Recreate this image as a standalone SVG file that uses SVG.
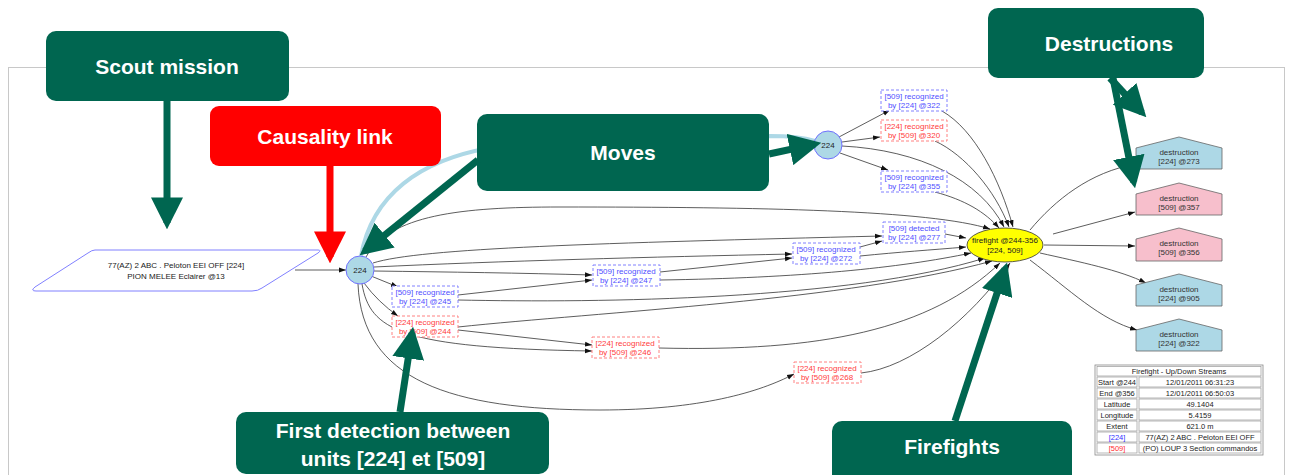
<svg xmlns="http://www.w3.org/2000/svg" width="1290" height="475" viewBox="0 0 1290 475">
<style>
.e{fill:none;stroke:#333;stroke-width:0.8;marker-end:url(#ah)}
.n{font-family:"Liberation Sans",Arial,sans-serif;font-size:8px;text-anchor:middle}
.bb{fill:#fff;stroke:#8080ff;stroke-width:1;stroke-dasharray:3,2}
.rb{fill:#fff;stroke:#ff8080;stroke-width:1;stroke-dasharray:3,2}
.bt{fill:#5050ff}
.rt{fill:#ff4040}
.circ{fill:#add8e6;stroke:#7070ff;stroke-width:1}
.dest{stroke:#666;stroke-width:0.8}
.cell{fill:#fff;stroke:#999;stroke-width:0.7}
.tt{font-family:"Liberation Sans",Arial,sans-serif;font-size:7.5px;text-anchor:middle;fill:#222}
.cb{fill:#006650}
.ct{font-family:"Liberation Sans",Arial,sans-serif;font-weight:bold;font-size:21px;fill:#fff;text-anchor:middle}
.ga{fill:none;stroke:#006650;stroke-width:7;marker-end:url(#gh)}
</style>
<defs>
<marker id="ah" viewBox="0 0 10 10" refX="10" refY="5" markerWidth="7" markerHeight="7" markerUnits="userSpaceOnUse" orient="auto"><path d="M0,1.5 L10,5 L0,8.5 z" fill="#111"/></marker>
<marker id="gh" viewBox="0 0 10 10" refX="8" refY="5" markerWidth="32" markerHeight="32" markerUnits="userSpaceOnUse" orient="auto"><path d="M0,0 L10,5 L0,10 z" fill="#006650"/></marker>
<marker id="rh" viewBox="0 0 10 10" refX="8" refY="5" markerWidth="32" markerHeight="32" markerUnits="userSpaceOnUse" orient="auto"><path d="M0,0 L10,5 L0,10 z" fill="#ff0000"/></marker>
</defs>
<rect x="0" y="0" width="1290" height="475" fill="#fff"/>
<rect x="8.5" y="67.5" width="1276" height="420" fill="none" stroke="#c8c8c8" stroke-width="1"/>

<g id="move-arc">
<path d="M361,256 C372,195 420,160 490,148 L770,136 C790,136 805,138 815,141" fill="none" stroke="#add8e6" stroke-width="4"/>
</g>

<g id="connectors">
<path class="e" d="M371,276 L398,287"/>
<path class="e" d="M364,283 Q378,302 398,316"/>
<path class="e" d="M374,271 C450,272 520,273 592,275"/>
<path class="e" d="M458,295 L592,280"/>
<path class="e" d="M374,267 C500,261 650,257 792,254"/>
<path class="e" d="M660,272 L792,258"/>
<path class="e" d="M373,263 C420,248 600,243 882,236"/>
<path class="e" d="M860,247 L882,241"/>
<path class="e" d="M366,257 C390,215 460,207 560,207 C760,207 930,210 990,229"/>
<path class="e" d="M945,234 L966,238"/>
<path class="e" d="M860,256 C900,252 930,250 966,247"/>
<path class="e" d="M660,280 C800,278 900,268 971,253"/>
<path class="e" d="M458,300 C600,303 850,300 985,258"/>
<path class="e" d="M458,327 C600,312 850,300 992,261"/>
<path class="e" d="M458,330 L592,345"/>
<path class="e" d="M362,284 C370,330 400,348 592,351"/>
<path class="e" d="M358,284 C362,380 450,410 600,410 C700,410 760,392 794,374"/>
<path class="e" d="M659,348 C820,352 930,330 1000,263"/>
<path class="e" d="M861,373 C910,368 970,320 1010,263"/>
<path class="e" d="M839,137 L890,110"/>
<path class="e" d="M842,142 L880,137"/>
<path class="e" d="M840,153 L888,170"/>
<path class="e" d="M842,146 C920,150 980,180 1004,227"/>
<path class="e" d="M942,111 C975,130 1000,180 1013,227"/>
<path class="e" d="M935,141 C965,155 995,190 1009,227"/>
<path class="e" d="M935,192 C965,200 985,212 999,228"/>
<path class="e" d="M295,270 L346,270"/>
<path class="e" d="M1030,230 C1055,200 1090,172 1136,164"/>
<path class="e" d="M1053,234 L1135,212"/>
<path class="e" d="M1044,245 L1135,246"/>
<path class="e" d="M1040,253 C1080,262 1120,270 1146,283"/>
<path class="e" d="M1030,260 C1070,290 1100,320 1137,330"/>
</g>

<g id="scout">
<path d="M95,250 L318,250 Q322,250 318,253 L262,288 Q258,291 252,291 L36,291 Q30,291 35,287 L88,253 Q92,250 95,250 z" fill="#fff" stroke="#8080ff" stroke-width="1"/>
<text class="n" x="176" y="268" fill="#222">77(AZ) 2 ABC . Peloton EEI OFF [224]</text>
<text class="n" x="176" y="279" fill="#222">PION MELEE Eclairer @13</text>
</g>

<g id="n224a"><circle class="circ" cx="360" cy="270" r="14"/><text class="n" x="360" y="273" fill="#222">224</text></g>
<g id="n224b"><circle class="circ" cx="828" cy="145" r="14"/><text class="n" x="828" y="148" fill="#222">224</text></g>

<g id="r322"><rect class="bb" x="881" y="90" width="66" height="21"/><text class="n bt" x="914" y="99">[509] recognized</text><text class="n bt" x="914" y="108">by [224] @322</text></g>
<g id="r320"><rect class="rb" x="881" y="120" width="66" height="21"/><text class="n rt" x="914" y="129">[224] recognized</text><text class="n rt" x="914" y="138">by [509] @320</text></g>
<g id="r355"><rect class="bb" x="881" y="171" width="66" height="21"/><text class="n bt" x="914" y="180">[509] recognized</text><text class="n bt" x="914" y="189">by [224] @355</text></g>
<g id="d277"><rect class="bb" x="883" y="222" width="62" height="21"/><text class="n bt" x="914" y="231">[509] detected</text><text class="n bt" x="914" y="240">by [224] @277</text></g>
<g id="r272"><rect class="bb" x="793" y="243" width="67" height="21"/><text class="n bt" x="826" y="252">[509] recognized</text><text class="n bt" x="826" y="261">by [224] @272</text></g>
<g id="r247"><rect class="bb" x="593" y="265" width="67" height="21"/><text class="n bt" x="626" y="274">[509] recognized</text><text class="n bt" x="626" y="283">by [224] @247</text></g>
<g id="r245"><rect class="bb" x="392" y="286" width="66" height="21"/><text class="n bt" x="425" y="295">[509] recognized</text><text class="n bt" x="425" y="304">by [224] @245</text></g>
<g id="r244"><rect class="rb" x="392" y="316" width="66" height="21"/><text class="n rt" x="425" y="325">[224] recognized</text><text class="n rt" x="425" y="334">by [509] @244</text></g>
<g id="r246"><rect class="rb" x="592" y="337" width="67" height="21"/><text class="n rt" x="625" y="346">[224] recognized</text><text class="n rt" x="625" y="355">by [509] @246</text></g>
<g id="r268"><rect class="rb" x="794" y="362" width="67" height="21"/><text class="n rt" x="827" y="371">[224] recognized</text><text class="n rt" x="827" y="380">by [509] @268</text></g>

<g id="firefight"><ellipse cx="1005" cy="245" rx="38" ry="17" fill="#ffff00" stroke="#333" stroke-width="0.8"/><text class="n" x="1005" y="243" fill="#222">firefight @244-356</text><text class="n" x="1005" y="253" fill="#222">[224, 509]</text></g>

<g id="dest273"><path class="dest" d="M1136,148 L1179,137 L1222,148 L1222,169 L1136,169 z" fill="#add8e6"/><text class="n" x="1179" y="155" fill="#333">destruction</text><text class="n" x="1179" y="164" fill="#333">[224] @273</text></g>
<g id="dest357"><path class="dest" d="M1136,194 L1179,183 L1222,194 L1222,215 L1136,215 z" fill="#f7bfcc"/><text class="n" x="1179" y="201" fill="#333">destruction</text><text class="n" x="1179" y="210" fill="#333">[509] @357</text></g>
<g id="dest356"><path class="dest" d="M1136,239 L1179,228 L1222,239 L1222,261 L1136,261 z" fill="#f7bfcc"/><text class="n" x="1179" y="246" fill="#333">destruction</text><text class="n" x="1179" y="255" fill="#333">[509] @356</text></g>
<g id="dest905"><path class="dest" d="M1136,285 L1179,274 L1222,285 L1222,306 L1136,306 z" fill="#add8e6"/><text class="n" x="1179" y="292" fill="#333">destruction</text><text class="n" x="1179" y="301" fill="#333">[224] @905</text></g>
<g id="dest322"><path class="dest" d="M1136,330 L1179,319 L1222,330 L1222,351 L1136,351 z" fill="#add8e6"/><text class="n" x="1179" y="337" fill="#333">destruction</text><text class="n" x="1179" y="346" fill="#333">[224] @322</text></g>

<g id="table">
<rect x="1095" y="365" width="168" height="90" fill="#fff" stroke="#888" stroke-width="0.8"/>
<rect class="cell" x="1097" y="366.5" width="164" height="9.5"/>
<text class="tt" x="1179" y="374">Firefight - Up/Down Streams</text>
<rect class="cell" x="1097" y="377" width="40" height="10"/><rect class="cell" x="1139" y="377" width="122" height="10"/>
<text class="tt" x="1117" y="385">Start @244</text><text class="tt" x="1200" y="385">12/01/2011 06:31:23</text>
<rect class="cell" x="1097" y="388" width="40" height="10"/><rect class="cell" x="1139" y="388" width="122" height="10"/>
<text class="tt" x="1117" y="396">End @356</text><text class="tt" x="1200" y="396">12/01/2011 06:50:03</text>
<rect class="cell" x="1097" y="399" width="40" height="10"/><rect class="cell" x="1139" y="399" width="122" height="10"/>
<text class="tt" x="1117" y="407">Latitude</text><text class="tt" x="1200" y="407">49.1404</text>
<rect class="cell" x="1097" y="410" width="40" height="10"/><rect class="cell" x="1139" y="410" width="122" height="10"/>
<text class="tt" x="1117" y="418">Longitude</text><text class="tt" x="1200" y="418">5.4159</text>
<rect class="cell" x="1097" y="421" width="40" height="10"/><rect class="cell" x="1139" y="421" width="122" height="10"/>
<text class="tt" x="1117" y="429">Extent</text><text class="tt" x="1200" y="429">621.0 m</text>
<rect class="cell" x="1097" y="432" width="40" height="10"/><rect class="cell" x="1139" y="432" width="122" height="10"/>
<text class="tt" x="1117" y="440" style="fill:#3030ff">[224]</text><text class="tt" x="1200" y="440">77(AZ) 2 ABC . Peloton EEI OFF</text>
<rect class="cell" x="1097" y="443" width="40" height="10"/><rect class="cell" x="1139" y="443" width="122" height="10"/>
<text class="tt" x="1117" y="451" style="fill:#ff3030">[509]</text><text class="tt" x="1200" y="451">(PO) LOUP 3  Section commandos</text>
</g>

<g id="callout-scout"><rect class="cb" x="46" y="31" width="243" height="70" rx="10"/><text class="ct" x="167" y="74">Scout mission</text></g>
<g id="callout-causality"><rect x="210" y="106" width="231" height="60" rx="9" fill="#ff0000"/><text class="ct" x="325" y="144">Causality link</text></g>
<g id="callout-moves"><rect class="cb" x="477" y="114" width="292" height="77" rx="10"/><text class="ct" x="623" y="160">Moves</text></g>
<g id="callout-destructions"><rect class="cb" x="988" y="8" width="216" height="70" rx="10"/><text class="ct" x="1109" y="51">Destructions</text></g>
<g id="callout-first"><rect class="cb" x="236" y="412" width="313" height="62" rx="10"/><text class="ct" x="393" y="438">First detection between</text><text class="ct" x="393" y="466">units [224] et [509]</text></g>
<g id="callout-firefights"><rect class="cb" x="832" y="421" width="240" height="64" rx="10"/><text class="ct" x="952" y="454">Firefights</text></g>

<g id="callout-arrows">
<path class="ga" d="M167,101 L167,223"/>
<path d="M330,166 L330,257" fill="none" stroke="#ff0000" stroke-width="7" marker-end="url(#rh)"/>
<path class="ga" d="M478,160 L364.7,251.2"/>
<path class="ga" d="M769,154 L815,144.2"/>
<path class="ga" d="M1110,78 L1142,112.6"/>
<path class="ga" d="M1113,78 L1133.8,182"/>
<path class="ga" d="M400,412 L412.1,333"/>
<path class="ga" d="M955,421 L1005.1,268.7"/>
</g>
</svg>
